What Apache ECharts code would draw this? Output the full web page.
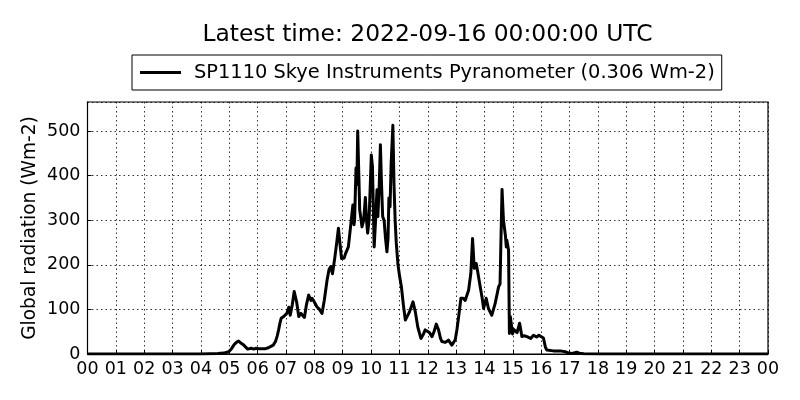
<!DOCTYPE html>
<html><head><meta charset="utf-8">
<script src="https://cdn.jsdelivr.net/npm/echarts@6/dist/echarts.min.js"></script>
<style>html,body{margin:0;padding:0;background:#fff}#c{width:800px;height:400px}</style>
</head><body><div id="c"></div>
<script>
const titleText = 'Latest time: 2022-09-16 00:00:00 UTC';
const seriesName = 'SP1110 Skye Instruments Pyranometer (0.306 Wm-2)';
const yAxisName = 'Global radiation (Wm-2)';
const hourTicks = ['00','01','02','03','04','05','06','07','08','09','10','11','12','13','14','15','16','17','18','19','20','21','22','23','00'];
const hours = [0,1,2,3,4,4.3,4.6,4.8,4.98,5.08,5.16,5.25,5.33,5.42,5.51,5.58,5.65,5.71,5.77,5.87,5.95,6.05,6.15,6.28,6.38,6.45,6.55,6.63,6.69,6.74,6.79,6.83,6.92,6.97,7.03,7.1,7.15,7.22,7.29,7.33,7.38,7.45,7.53,7.58,7.65,7.72,7.8,7.88,7.92,7.97,8.09,8.18,8.27,8.35,8.45,8.52,8.58,8.64,8.72,8.8,8.85,8.9,8.96,9.05,9.1,9.15,9.2,9.24,9.3,9.36,9.4,9.42,9.47,9.5,9.53,9.57,9.6,9.64,9.68,9.74,9.8,9.84,9.88,9.93,10.01,10.05,10.11,10.16,10.21,10.24,10.29,10.33,10.37,10.41,10.46,10.51,10.56,10.6,10.63,10.67,10.71,10.77,10.81,10.85,10.89,10.95,11.01,11.07,11.14,11.21,11.28,11.36,11.48,11.56,11.65,11.76,11.85,11.91,12.06,12.15,12.22,12.3,12.38,12.45,12.5,12.62,12.73,12.85,12.97,13.03,13.09,13.17,13.25,13.32,13.44,13.52,13.58,13.64,13.71,13.76,13.85,13.92,13.97,14.06,14.14,14.26,14.38,14.5,14.55,14.58,14.62,14.67,14.74,14.77,14.79,14.85,14.88,14.91,14.94,14.99,15.03,15.07,15.15,15.24,15.32,15.4,15.5,15.63,15.73,15.84,15.92,15.99,16.08,16.15,16.2,16.43,16.67,16.85,16.97,17.1,17.25,17.35,17.5,18,24];
const radiation = [0,0,0,0,0,0.5,1,2,5,12,20,26,29,24,20,17,11,14,13,11,13,12,12,12,14,16,20,28,40,54,70,80,84,80,91,105,87,110,140,144,115,84,91,88,82,110,132,120,125,120,106,100,91,120,166,190,196,180,215,255,282,250,214,215,225,222,240,263,265,334,290,300,417,380,500,400,323,305,285,300,351,300,271,300,446,420,240,300,368,308,380,469,380,308,300,260,229,260,350,330,428,513,380,300,249,200,173,151,110,76,80,95,117,95,60,35,45,54,48,39,50,67,54,35,28,26,31,20,32,55,84,125,125,120,143,181,259,192,203,185,151,125,102,125,102,87,114,151,157,250,369,300,265,240,255,233,46,84,70,45,55,52,48,69,39,41,39,35,42,38,42,46,36,15,9,7,7,5,2,1,4,2,0.5,0,0];

const FONT = 'DejaVu Sans';
const chart = echarts.init(document.getElementById('c'), null, {renderer: 'canvas'});
const lineData = hours.map((h, i) => [h, radiation[i]]);
chart.setOption({
  animation: false,
  backgroundColor: '#fff',
  textStyle: {fontFamily: FONT},
  graphic: [{
    type: 'text', x: 427.5, y: 35,
    style: {text: titleText, font: '23.4px "DejaVu Sans"', fill: '#000', textAlign: 'center', textVerticalAlign: 'middle'}
  }],
  legend: {
    left: 132, top: 55,
    padding: [8, 7, 8, 8],
    borderColor: '#000', borderWidth: 1, borderRadius: 0,
    itemWidth: 41, itemHeight: 3, itemGap: 10,
    icon: 'rect',
    textStyle: {fontFamily: FONT, fontSize: 19.4, color: '#000', padding: [0, 0, 0, 8]},
    data: [{name: seriesName, itemStyle: {color: '#000'}}]
  },
  grid: {left: 87.5, right: 32, top: 102, bottom: 46, show: true, borderColor: '#000', borderWidth: 1.2, containLabel: false},
  xAxis: {
    type: 'value', min: 0, max: 24, interval: 1,
    axisLine: {show: true, onZero: false, lineStyle: {color: '#000', width: 1}},
    axisTick: {show: true, inside: true, length: 4, lineStyle: {color: '#000'}},
    axisLabel: {fontFamily: FONT, fontSize: 17.5, color: '#000', margin: 6,
      formatter: v => hourTicks[Math.round(v)]},
    splitLine: {show: true, lineStyle: {color: '#000', type: [1.5, 3], width: 0.8}}
  },
  yAxis: {
    type: 'value', min: 0, max: 565, interval: 100,
    name: yAxisName, nameLocation: 'middle', nameGap: 48, nameRotate: 90,
    nameMoveOverlap: false,
    nameTextStyle: {fontFamily: FONT, fontSize: 18.6, color: '#000'},
    axisLine: {show: true, lineStyle: {color: '#000', width: 1}},
    axisTick: {show: true, inside: true, length: 4, lineStyle: {color: '#000'}},
    axisLabel: {fontFamily: FONT, fontSize: 17.5, color: '#000', margin: 7, showMaxLabel: false,
      formatter: v => (v % 100 === 0 ? String(v) : '')},
    splitLine: {show: true, lineStyle: {color: '#000', type: [1.5, 3], width: 0.8}}
  },
  series: [{
    name: seriesName, type: 'line', data: lineData,
    showSymbol: false, symbol: 'none',
    lineStyle: {color: '#000', width: 3, join: 'round'},
    itemStyle: {color: '#000'}
  }]
});
</script></body></html>
